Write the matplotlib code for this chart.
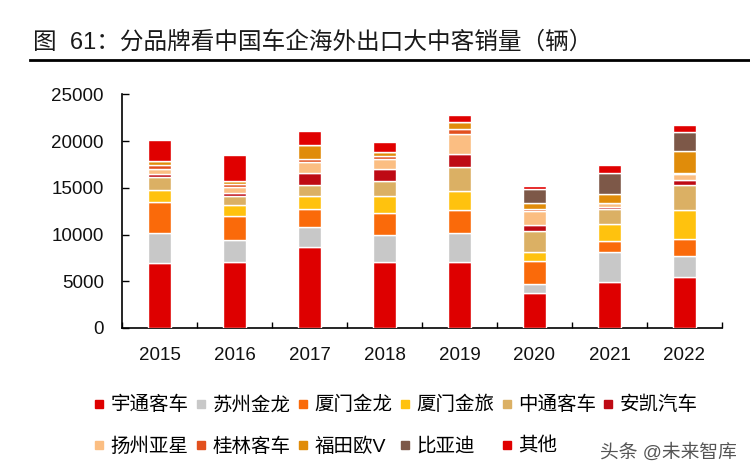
import matplotlib
matplotlib.use("Agg")
import matplotlib.pyplot as plt
from matplotlib.lines import Line2D
import numpy as np

plt.rcParams['font.family'] = ['Liberation Sans', 'Noto Sans CJK SC', 'DejaVu Sans']

years = ['2015', '2016', '2017', '2018', '2019', '2020', '2021', '2022']
brands = ['宇通客车', '苏州金龙', '厦门金龙', '厦门金旅', '中通客车', '安凯汽车',
          '扬州亚星', '桂林客车', '福田欧V', '比亚迪', '其他']
yutong   = [6900, 7050, 8650, 7050, 7050, 3700, 4900, 5450]
suzhou   = [3300, 2350, 2150, 2850, 3150, 1050, 3200, 2300]
xmjl     = [3250, 2550, 1950, 2450, 2400, 2400, 1200, 1800]
xmjlv    = [1350, 1200, 1350, 1800, 2050, 950, 1800, 3050]
zhongtong = [1300, 950, 1200, 1600, 2600, 2250, 1650, 2700]
ankai    = [400, 350, 1300, 1250, 1350, 700, 150, 500]
yangzhou = [500, 650, 1200, 1100, 2100, 1500, 450, 650]
guilin   = [450, 300, 250, 300, 600, 150, 0, 150]
futian   = [450, 300, 1550, 400, 750, 650, 1000, 2350]
byd      = [0, 0, 0, 0, 0, 1500, 2200, 2050]
others   = [2200, 2850, 1500, 1150, 700, 300, 850, 700]

series = [yutong, suzhou, xmjl, xmjlv, zhongtong, ankai, yangzhou, guilin, futian, byd, others]
colors = ['#DE0000', '#C8C8C8', '#FA6A0A', '#FFC20E', '#DBB064', '#BE0A14',
          '#FBBE82', '#E2501E', '#E08C0A', '#7D5848', '#E00000']

W, H = 750, 475
fig = plt.figure(figsize=(W / 100, H / 100), dpi=100)
fig.patch.set_facecolor('white')
ax = fig.add_axes([122 / W, 1 - 328 / H, 600 / W, (328 - 94.3) / H])

x = np.arange(len(years))
bottom = np.zeros(len(years))
for vals, c, name in zip(series, colors, brands):
    v = np.array(vals, dtype=float)
    ax.bar(x, v, width=0.3, bottom=bottom, color=c, edgecolor='white',
           linewidth=1.0, label=name, zorder=3)
    bottom += v

ax.set_xlim(-0.5, 7.5)
ax.set_ylim(0, 25000)
ax.set_yticks(np.arange(0, 25001, 5000))
ax.set_xticks(x)
ax.set_xticklabels(years)
ax.set_xticks(np.arange(-0.5, 8, 1), minor=True)
ax.tick_params(axis='x', which='major', length=0, labelsize=13.5, pad=14, labelcolor='#111111')
ax.tick_params(axis='x', which='minor', direction='in', length=4, width=1)
ax.tick_params(axis='y', direction='in', length=5, width=1, labelsize=13.5, pad=13, labelcolor='#111111')
for s in ['top', 'right']:
    ax.spines[s].set_visible(False)
for s in ['left', 'bottom']:
    ax.spines[s].set_linewidth(1.2)
    ax.spines[s].set_color('black')

# Title and rule
fig.text(33 / W, 1 - 42 / H, '图  61：分品牌看中国车企海外出口大中客销量（辆）',
         fontsize=17, va='center', ha='left', color='#1a1a1a')
fig.add_artist(Line2D([30 / W, 1.0], [1 - 60 / H, 1 - 60 / H], color='black',
                      linewidth=2, transform=fig.transFigure))

# legend: reorder so entries read row by row
order = [0, 6, 1, 7, 2, 8, 3, 9, 4, 10, 5]
handles = [Line2D([], [], marker='s', linestyle='', markersize=5.5, color=c) for c in colors]
fig.legend([handles[i] for i in order], [brands[i] for i in order], ncol=6,
           loc='upper left', bbox_to_anchor=(93 / W, 1 - 396 / H),
           frameon=False, fontsize=14, handlelength=0.6, handletextpad=0.3,
           columnspacing=0.33, labelspacing=1.2, borderpad=0, borderaxespad=0)

fig.text(600 / W, 1 - 453 / H, '头条 @未来智库', fontsize=13.5, color='#555555',
         va='center', ha='left')

fig.savefig('out.png', dpi=100, facecolor='white')
